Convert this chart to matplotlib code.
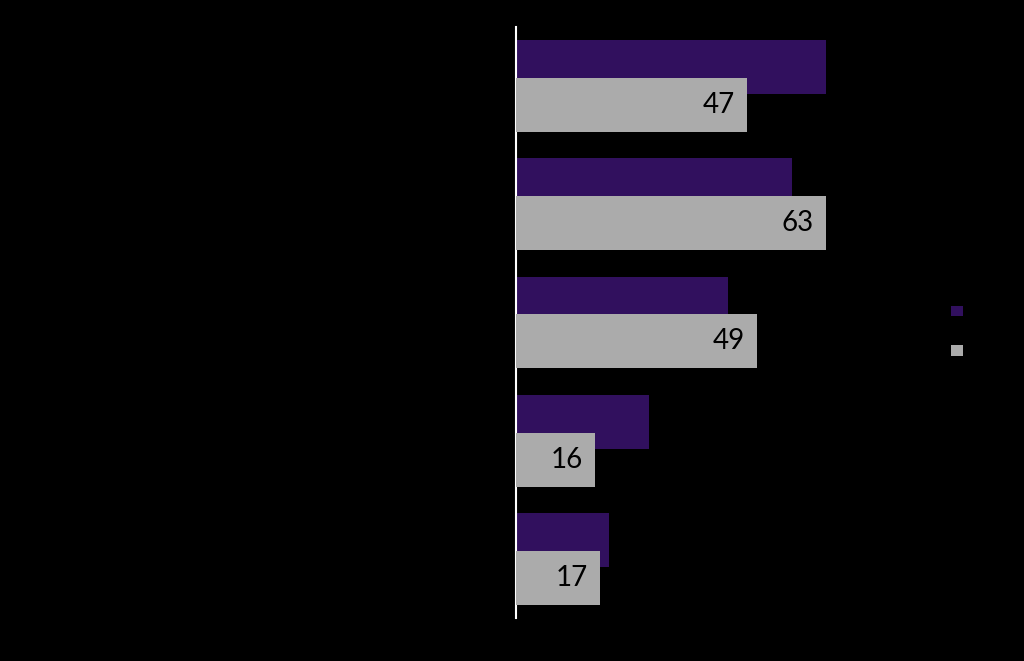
import matplotlib
matplotlib.use("Agg")
import matplotlib.pyplot as plt
from matplotlib.patches import Patch
import numpy as np

categories = ["Category 1", "Category 2", "Category 3", "Category 4", "Category 5"]
series_names = ["Series 1", "Series 2"]
series_purple = [63, 56, 43, 27, 19]
series_gray = [47, 63, 49, 16, 17]

purple = "#31105E"
gray = "#ABABAB"

fig = plt.figure(figsize=(10.24, 6.61), dpi=100, facecolor="black")
ax = fig.add_axes([516/1024, 1-618/661, (1024-516-20)/1024, (618-27)/661])
ax.set_facecolor("black")

y = np.arange(len(categories))
h = 0.456
off = 0.16
ax.barh(y - off, series_purple, height=h, color=purple, label=series_names[0], zorder=2)
ax.barh(y + off, series_gray, height=h, color=gray, label=series_names[1], zorder=3)

for yi, v in zip(y, series_gray):
    ax.annotate(str(v), xy=(v, yi + off), xytext=(-12, 0), textcoords="offset pixels",
                ha="right", va="center", fontsize=20, color="black",
                family=["Lato", "DejaVu Sans"], zorder=4)

ax.set_ylim(len(categories) - 0.5, -0.5)
ax.set_xlim(0, (1024-516-20)/4.92)
ax.set_yticks(y)
ax.set_yticklabels(categories, color="black", fontsize=12)
ax.tick_params(left=False, bottom=False, labelbottom=False)
for s in ["top", "right", "bottom"]:
    ax.spines[s].set_visible(False)
ax.spines["left"].set_color("white")
ax.spines["left"].set_linewidth(1.5)

handles = [Patch(facecolor=purple), Patch(facecolor=gray)]
leg = fig.legend(handles, series_names, loc="upper left",
                 bbox_to_anchor=(951/1024, 1-306/661), frameon=False,
                 fontsize=8, handlelength=1.05, handleheight=1.05,
                 labelspacing=2.55, handletextpad=0.5, borderpad=0, borderaxespad=0)
for t in leg.get_texts():
    t.set_color("black")

fig.savefig("out.png", dpi=100, facecolor="black")
